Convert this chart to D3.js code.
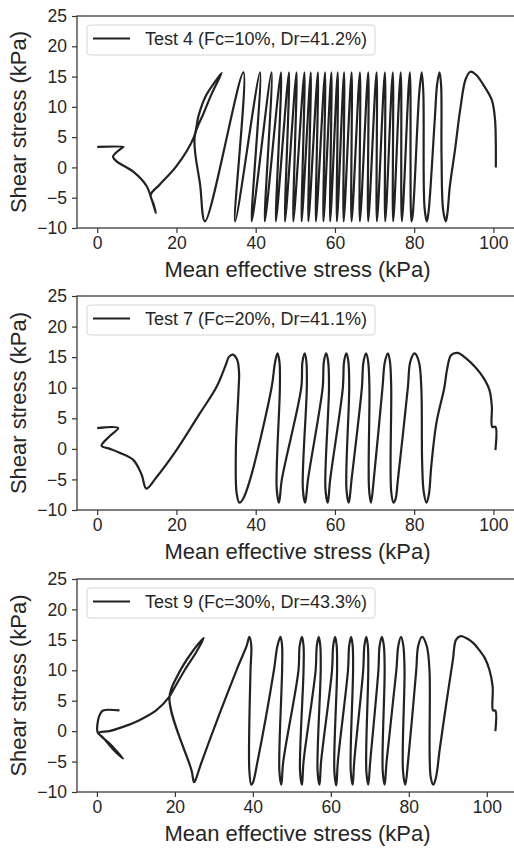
<!DOCTYPE html>
<html>
<head>
<meta charset="utf-8">
<script src="https://cdn.jsdelivr.net/npm/d3@7"></script>
<style>
  body { margin: 0; background: #fff; }
  text { font-family: "Liberation Sans", Arial, sans-serif; fill: #262626; }
</style>
</head>
<body>
<div id="chart"></div>
<script>
// Tick values
var xTicks = [0, 20, 40, 60, 80, 100];
var yTicks = [-10, -5, 0, 5, 10, 15, 20, 25];

var legendLabels = ["Test 4 (Fc=10%, Dr=41.2%)", "Test 7 (Fc=20%, Dr=41.1%)", "Test 9 (Fc=30%, Dr=43.3%)"];

// Stress paths [mean effective stress, shear stress]
var test4Path = [
  [100.6, 0.0], [100.6, 3.7], [100.4, 7.9], [99.6, 11.1], [97.5, 13.6], [95.6, 15.3], [94.2, 15.8],
  [93.0, 14.6], [91.6, 9.5], [90.3, 2.9], [89.0, -3.1], [88.4, -7.5], [88.0, -8.9], [87.3, -7.0],
  [86.9, 2.0], [86.8, 13.5], [86.4, 15.7], [85.8, 13.8], [85.2, 8.0], [83.6, -7.5], [83.2, -8.9],
  [82.6, -6.5], [82.3, 12.5], [81.9, 15.7], [81.3, 12.5], [79.6, -8.0], [79.3, -8.9],
  [78.9, 15.7], [76.9, -8.9], [76.6, 15.7], [74.7, -8.9], [74.6, 15.7], [72.7, -8.9], [72.6, 15.7],
  [70.6, -8.9], [70.5, 15.7], [68.4, -8.9], [68.4, 15.7], [66.3, -8.9], [66.3, 15.7], [64.2, -8.9],
  [64.2, 15.7], [62.2, -8.9], [62.3, 15.7], [60.5, -8.9], [60.7, 15.7], [58.8, -8.9], [59.1, 15.7],
  [57.1, -8.9], [57.5, 15.7], [55.2, -8.9], [55.7, 15.7], [53.3, -8.9], [53.9, 15.7], [51.6, -8.9],
  [52.3, 15.7], [49.5, -8.9], [50.3, 15.7], [47.4, -8.9], [48.4, 15.7], [45.1, -8.9], [46.4, 15.7],
  [42.3, -8.9], [44.0, 15.7], [39.0, -8.9], [41.1, 15.7], [34.8, -8.9], [36.9, 15.7], [27.2, -8.9],
  [26.0, -3.0], [24.6, 5.0], [26.9, 9.0], [29.0, 12.3], [31.4, 15.6], [29.8, 14.2], [27.4, 11.8],
  [25.6, 8.6], [24.4, 5.0], [20.0, 0.2], [15.8, -2.8], [13.5, -4.5], [14.2, -6.0], [14.8, -7.5],
  [13.6, -5.0], [12.5, -3.1], [9.1, -0.7], [4.9, 1.0], [4.0, 1.8], [6.4, 3.3], [6.6, 3.4], [0.0, 3.4]
];

var test7Path = [
  [100.5, -0.2], [100.5, 3.6], [99.7, 3.6], [99.6, 6.9], [99.0, 9.6], [97.5, 11.6], [95.5, 13.3],
  [93.1, 14.8], [90.9, 15.7], [89.3, 15.3], [88.3, 13.0], [87.6, 10.0], [85.6, 4.2], [84.3, -2.9],
  [83.7, -7.5], [83.1, -8.8], [82.4, -7.0], [82.0, -2.0], [81.8, 10.0], [81.2, 14.2], [80.1, 15.6],
  [79.0, 14.2], [78.4, 10.0], [75.9, -5.0], [75.3, -8.2], [74.8, -8.8], [74.2, -7.0], [74.2, 10.0],
  [73.9, 14.2], [73.4, 15.6], [72.6, 14.2], [72.0, 10.0], [69.8, -5.0], [69.1, -8.8], [68.6, -6.5],
  [68.7, 10.0], [68.4, 14.2], [67.9, 15.6], [67.2, 14.2], [66.8, 10.0], [64.2, -5.0], [63.5, -8.8],
  [62.9, -6.5], [63.6, 10.0], [63.4, 14.2], [62.9, 15.6], [62.3, 14.2], [62.0, 10.0], [58.8, -5.0],
  [58.2, -8.8], [57.6, -6.5], [58.5, 10.0], [58.3, 14.2], [57.8, 15.6], [57.2, 14.2], [56.9, 10.0],
  [53.2, -5.0], [52.5, -8.8], [51.9, -6.5], [52.9, 10.0], [52.8, 14.2], [52.4, 15.6], [51.8, 14.2],
  [51.5, 10.0], [46.6, -5.0], [45.9, -8.8], [45.3, -6.5], [46.1, 10.0], [46.0, 14.2], [45.5, 15.6],
  [44.9, 14.2], [44.0, 10.0], [38.6, -5.0], [36.8, -8.2], [35.9, -8.8], [35.2, -7.3], [35.0, 0.0],
  [35.7, 10.0], [35.8, 12.5], [35.3, 14.6], [34.2, 15.4], [33.2, 15.0], [32.6, 14.0], [30.1, 10.1],
  [25.9, 5.8], [20.0, -0.2], [15.0, -4.6], [12.4, -6.5], [11.2, -4.2], [9.1, -1.8], [5.5, -0.6],
  [3.2, 0.0], [1.1, 0.5], [3.0, 2.0], [5.3, 3.4], [0.0, 3.4]
];

var test9Path = [
  [102.2, 0.0], [102.2, 3.4], [101.6, 3.4], [101.5, 7.3], [100.7, 10.0], [99.5, 12.0], [98.1, 13.3],
  [96.5, 14.5], [94.7, 15.3], [93.3, 15.6], [92.1, 15.0], [91.3, 11.7], [89.6, 4.5], [87.9, -3.1],
  [87.0, -7.5], [86.3, -8.8], [85.6, -7.5], [85.3, 10.0], [84.6, 14.0], [83.4, 15.5], [82.4, 14.0],
  [81.9, 10.0], [79.8, -5.0], [79.1, -8.8], [78.5, -6.5], [78.9, 10.0], [78.6, 14.0], [78.0, 15.5],
  [77.3, 14.0], [76.8, 10.0], [74.3, -5.0], [73.8, -8.8], [73.3, -6.5], [73.8, 10.0], [73.6, 14.0],
  [73.1, 15.5], [72.5, 14.0], [72.2, 10.0], [70.1, -5.0], [69.6, -8.8], [69.1, -6.5], [69.6, 10.0],
  [69.5, 14.0], [69.1, 15.5], [68.6, 14.0], [68.3, 10.0], [66.0, -5.0], [65.6, -8.8], [65.1, -6.5],
  [65.7, 10.0], [65.6, 14.0], [65.2, 15.5], [64.7, 14.0], [64.4, 10.0], [61.8, -5.0], [61.4, -8.9],
  [60.9, -6.5], [61.6, 10.0], [61.5, 14.0], [61.1, 15.5], [60.6, 14.0], [60.3, 10.0], [57.5, -5.0],
  [57.1, -8.8], [56.6, -6.5], [57.4, 10.0], [57.3, 14.0], [56.9, 15.5], [56.4, 14.0], [56.1, 10.0],
  [53.0, -5.0], [52.6, -8.8], [52.1, -6.5], [53.0, 10.0], [53.0, 14.0], [52.6, 15.5], [52.0, 14.0],
  [51.7, 10.0], [47.8, -5.0], [47.3, -8.8], [46.8, -6.5], [47.5, 10.0], [47.5, 14.0], [47.1, 15.5],
  [46.3, 14.0], [45.4, 10.0], [41.2, -5.0], [40.0, -8.5], [39.6, -8.8], [39.1, -6.5], [39.4, 10.0],
  [39.6, 14.0], [39.1, 15.5], [38.4, 14.0], [35.8, 10.0], [26.9, -5.0], [25.3, -8.0], [24.9, -8.4],
  [24.3, -6.5], [18.6, 5.4], [21.0, 9.5], [24.2, 12.8], [27.4, 15.3], [25.5, 13.0], [22.5, 10.0],
  [19.8, 7.0], [18.4, 5.5], [15.2, 3.4], [10.9, 1.8], [6.7, 0.7], [3.2, 0.0], [0.5, -0.3],
  [3.5, -2.2], [6.7, -4.5], [4.5, -3.2], [1.5, -1.0], [0.2, -0.2], [0.3, 1.8], [0.9, 2.9],
  [1.6, 3.4], [5.8, 3.4]
];

// Layout
var W = 514, H = 848;
var left = 77, right = 518;
var panels = [
  { path: test4Path, label: legendLabels[0], top: 16, bottom: 228, xMax: 106.2 },
  { path: test7Path, label: legendLabels[1], top: 296, bottom: 510, xMax: 106.2 },
  { path: test9Path, label: legendLabels[2], top: 579, bottom: 792, xMax: 108.0 }
];

var svg = d3.select("#chart").append("svg")
    .attr("width", W)
    .attr("height", H)
    .style("display", "block")
    .style("background", "#fff");

var line = d3.line().curve(d3.curveCatmullRom.alpha(0.5));

panels.forEach(function (p, i) {
    var x = d3.scaleLinear().domain([-5.1, p.xMax]).range([left, right]);
    var y = d3.scaleLinear().domain([-10, 25]).range([p.bottom, p.top]);

    var g = svg.append("g");

    g.append("clipPath").attr("id", "clip" + i)
      .append("rect")
        .attr("x", left).attr("y", p.top)
        .attr("width", right - left).attr("height", p.bottom - p.top);

    // stress path
    g.append("path")
        .datum(p.path)
        .attr("clip-path", "url(#clip" + i + ")")
        .attr("fill", "none")
        .attr("stroke", "#222")
        .attr("stroke-width", 2.2)
        .attr("stroke-linejoin", "round")
        .attr("d", line.x(function (d) { return x(d[0]); }).y(function (d) { return y(d[1]); }));

    // axes
    var xa = g.append("g")
        .attr("transform", "translate(0," + p.bottom + ")")
        .call(d3.axisBottom(x).tickValues(xTicks).tickSize(5).tickSizeOuter(0).tickPadding(4));
    var ya = g.append("g")
        .attr("transform", "translate(" + left + ",0)")
        .call(d3.axisLeft(y).tickValues(yTicks).tickSize(5).tickSizeOuter(0).tickPadding(5));
    [xa, ya].forEach(function (a) {
        a.select(".domain").remove();
        a.selectAll(".tick line").attr("stroke", "#333").attr("stroke-width", 1.2);
        a.selectAll(".tick text").attr("fill", "#262626")
            .style("font-size", "17.5px")
            .style("font-family", "'Liberation Sans', Arial, sans-serif");
    });

    // spines (right one falls outside the picture)
    g.append("rect")
        .attr("x", left).attr("y", p.top)
        .attr("width", right - left).attr("height", p.bottom - p.top)
        .attr("fill", "none").attr("stroke", "#333").attr("stroke-width", 1.25);

    // axis labels
    g.append("text")
        .attr("x", (left + right) / 2)
        .attr("y", p.bottom + 49)
        .attr("text-anchor", "middle")
        .style("font-size", "22px")
        .text("Mean effective stress (kPa)");

    g.append("text")
        .attr("transform", "translate(26," + (p.top + p.bottom) / 2 + ") rotate(-90)")
        .attr("text-anchor", "middle")
        .style("font-size", "22px")
        .text("Shear stress (kPa)");

    // legend
    var lg = g.append("g").attr("transform", "translate(" + (left + 10) + "," + (p.top + 9) + ")");
    lg.append("rect")
        .attr("width", 288).attr("height", 30)
        .attr("rx", 3).attr("ry", 3)
        .attr("fill", "#fff").attr("fill-opacity", 0.85)
        .attr("stroke", "#d4d4d4").attr("stroke-width", 1);
    lg.append("line")
        .attr("x1", 6).attr("x2", 43)
        .attr("y1", 13.5).attr("y2", 13.5)
        .attr("stroke", "#222").attr("stroke-width", 2);
    lg.append("text")
        .attr("x", 58).attr("y", 20)
        .style("font-size", "18px")
        .text(p.label);
});
</script>
</body>
</html>
